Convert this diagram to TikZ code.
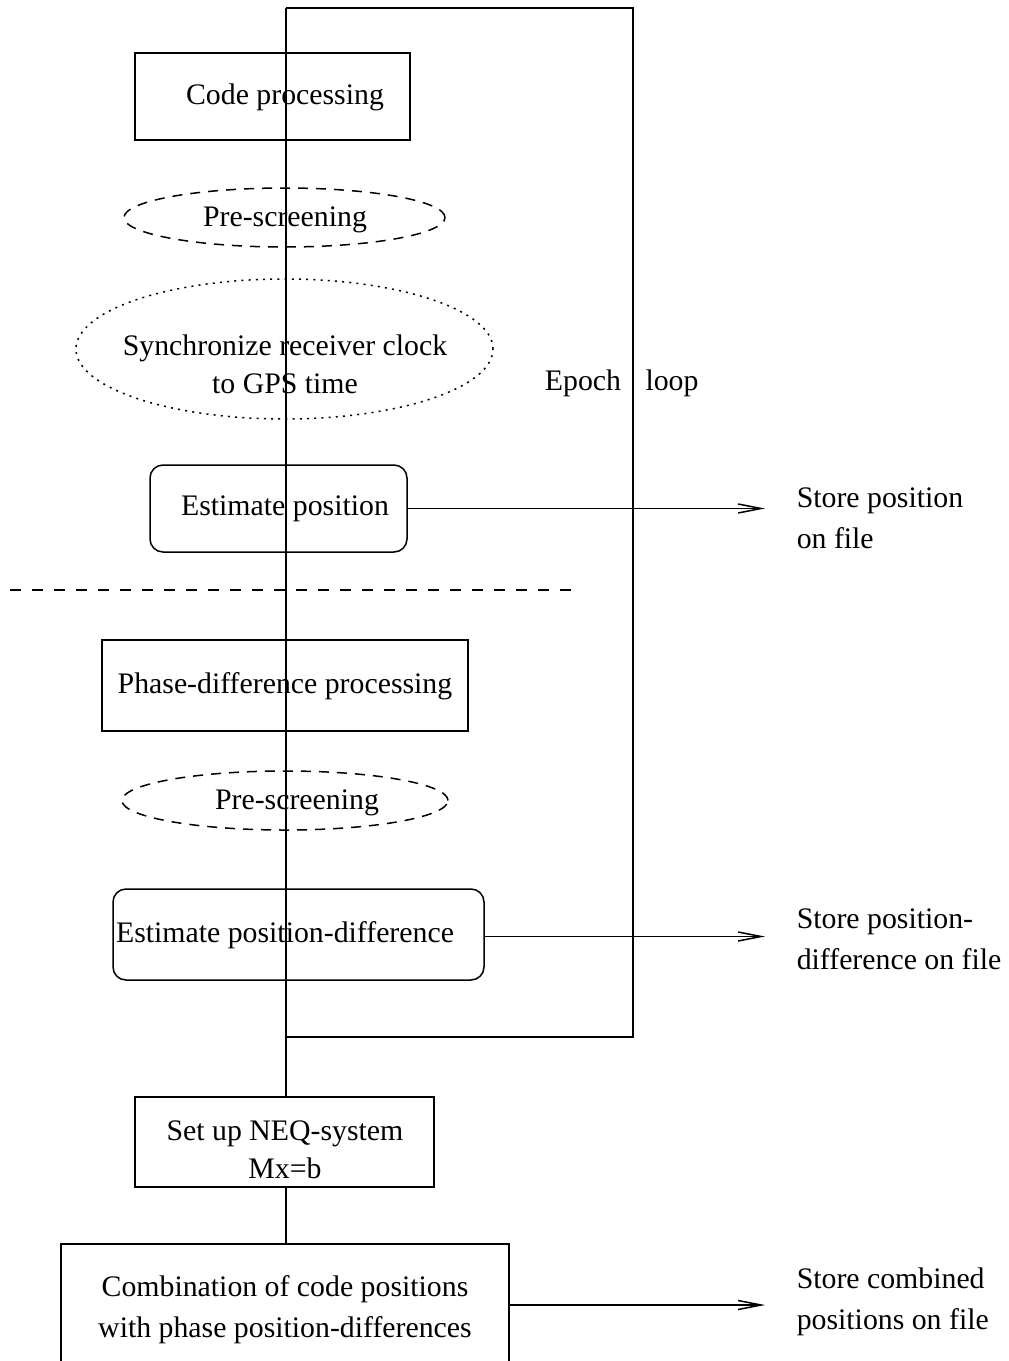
\documentclass[tikz,border=0pt]{standalone}
\usepackage{fontspec}
\setmainfont{Liberation Serif}
\usetikzlibrary{shapes.geometric,arrows.meta}
\begin{document}
\begin{tikzpicture}[x=0.5pt,y=-0.5pt,
  line width=0.75pt,
  every node/.style={font=\fontsize{14.9pt}{19pt}\selectfont},
  boxshape/.style={draw,rectangle,inner sep=0pt,line width=0.75pt},
  roundshape/.style={draw,rectangle,rounded corners=6.5pt,inner sep=0pt,line width=0.75pt},
  dashell/.style={draw,ellipse,inner sep=0pt,dash pattern=on 5pt off 4pt},
  dotell/.style={draw,ellipse,inner sep=0pt,dash pattern=on 1pt off 2.6pt},
  txt/.style={inner sep=0pt,align=center},
  widetxt/.style={inner sep=0pt,align=center,font=\fontsize{14.9pt}{20.5pt}\selectfont},
  storetxt/.style={anchor=west,inner xsep=15.5pt,inner ysep=0pt,align=left,font=\fontsize{14.9pt}{20.5pt}\selectfont},
  arr/.style={-{Straight Barb[length=11.5pt,width=4.5pt,line width=0.75pt]}}
]
\useasboundingbox (0,0) rectangle (1008,1361);
\clip (0,0) rectangle (1008,1361);

% shapes
\node[boxshape,minimum width=137.5pt,minimum height=43.5pt] (code) at (272.5,96.5) {};
\node[dashell,minimum width=160.5pt,minimum height=29.5pt] (pre1) at (284.5,217.5) {};
\node[dotell,minimum width=208.5pt,minimum height=70pt] (sync) at (284.5,349) {};
\node[roundshape,minimum width=128.5pt,minimum height=43.5pt] (estpos) at (278.5,508.5) {};
\node[boxshape,minimum width=183pt,minimum height=45.5pt] (phase) at (285,685.5) {};
\node[dashell,minimum width=163pt,minimum height=29.5pt] (pre2) at (285,800.5) {};
\node[roundshape,minimum width=185.5pt,minimum height=45.5pt] (estdiff) at (298.5,934.5) {};
\node[boxshape,minimum width=149.5pt,minimum height=45pt] (neq) at (284.5,1142) {};
\node[boxshape,minimum width=224pt,minimum height=64pt] (comb) at (285,1308) {};

% texts
\node[txt] (codetxt) at (285,97) {Code processing};
\node[txt] (pre1txt) at (285,220) {Pre-screening};
\node[txt] (synctxt) at (285,364) {Synchronize receiver clock\\to GPS time};
\node[txt] (estpostxt) at (285,509) {Estimate position};
\node[txt] (phasetxt) at (285,686) {Phase-difference processing};
\node[txt] (pre2txt) at (297,803) {Pre-screening};
\node[txt] (estdifftxt) at (285,935) {Estimate position-difference};
\node[txt] (neqtxt) at (285,1150) {Set up NEQ-system\\Mx=b};
\node[widetxt] (combtxt) at (285,1310) {Combination of code positions\\with phase position-differences};
\node[txt] (epoch) at (583,383) {Epoch};
\node[txt] (loop) at (672,383) {loop};

\node[storetxt] (store1) at (765,518) {Store position\\on file};
\node[storetxt] (store2) at (765,939) {Store position-\\difference on file};
\node[storetxt] (store3) at (765,1302) {Store combined\\positions on file};

% loop
\coordinate (looptl) at (286,8);
\coordinate (looptr) at (633,8);
\coordinate (loopbr) at (633,1037);
\coordinate (loopbl) at (286,1037);
\draw (looptl) -- (looptr) -- (loopbr) -- (loopbl);
\draw (looptl) -- (looptl |- neq.north);
\draw (neq.south -| looptl) -- (comb.north -| looptl);

% separator
\coordinate (sepl) at (10,590);
\coordinate (sepr) at (572,590);
\draw[dash pattern=on 5.5pt off 5.5pt] (sepl) -- (sepr);

% arrows
\draw[arr] (estpos.east) -- (estpos.east -| store1.west);
\draw[arr] ([yshift=-1pt]estdiff.east) -- ([yshift=-1pt]estdiff.east -| store2.west);
\draw[arr] ([yshift=1.5pt]comb.east) -- ([yshift=1.5pt]comb.east -| store3.west);
\end{tikzpicture}
\end{document}
